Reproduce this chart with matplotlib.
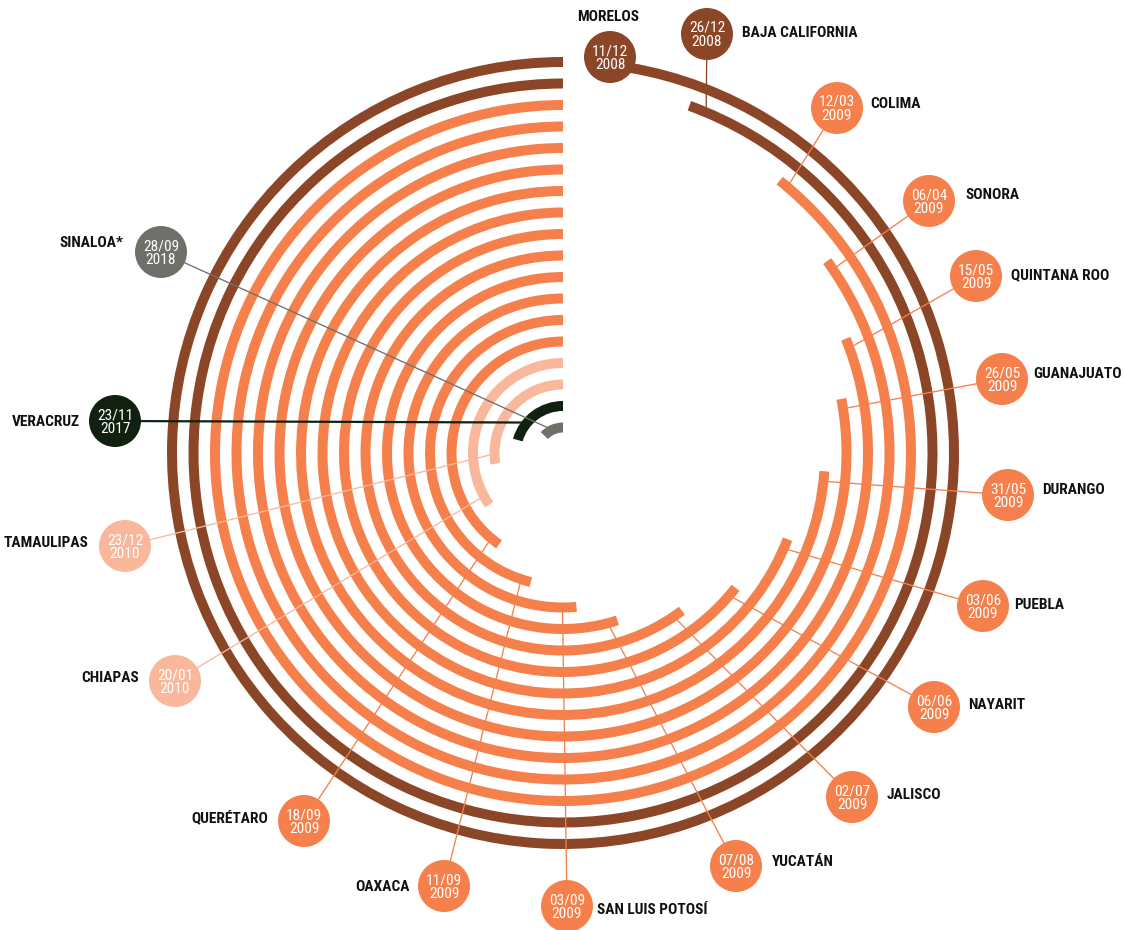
import numpy as np
import matplotlib
matplotlib.use("Agg")
import matplotlib.pyplot as plt
from matplotlib.patches import Wedge
from matplotlib import font_manager as fm

# ---------------- data ----------------
states = ["MORELOS", "BAJA CALIFORNIA", "COLIMA", "SONORA", "QUINTANA ROO",
          "GUANAJUATO", "DURANGO", "PUEBLA", "NAYARIT", "JALISCO", "YUCATÁN",
          "SAN LUIS POTOSÍ", "OAXACA", "QUERÉTARO", "CHIAPAS", "TAMAULIPAS",
          "VERACRUZ", "SINALOA*"]
dates = ["11/12\n2008", "26/12\n2008", "12/03\n2009", "06/04\n2009", "15/05\n2009",
         "26/05\n2009", "31/05\n2009", "03/06\n2009", "06/06\n2009", "02/07\n2009",
         "07/08\n2009", "03/09\n2009", "11/09\n2009", "18/09\n2009", "20/01\n2010",
         "23/12\n2010", "23/11\n2017", "28/09\n2018"]
years = ["2008", "2008", "2009", "2009", "2009", "2009", "2009", "2009", "2009",
         "2009", "2009", "2009", "2009", "2009", "2010", "2010", "2017", "2018"]
# angular length of each arc (degrees)
arc_span_deg = [353, 340, 321.5, 306, 292, 281, 266, 249, 232, 217, 198, 185,
                166, 145, 125, 99, 74, 47]

year_colors = {"2008": "#8B4627", "2009": "#F5804C", "2010": "#F9B89B",
               "2017": "#11210F", "2018": "#6E706A"}

# ---------------- layout ----------------
W, H = 1124, 930
cx, cy = 563, 453
r_outer, r_step, ring_w = 391, 21.5, 10

bubble_xy = [(610, 57), (707, 34), (837, 108), (929, 201), (976, 276),
             (1002, 379), (1008, 495), (983, 606), (934, 707), (852, 797),
             (736, 866), (567, 906), (444, 886), (304, 821), (175, 681),
             (125, 546), (115, 421), (161, 252)]
# distance (px, along the arc) from the arc's free end to the leader attachment
attach_px = [10, 18, 10, 10, 10, 10, 10, 10, 10, 10, 10, 14, 10, 10, 10, 10,
             20, 10]
name_xy = [(608, 17, "center"), (742, 33, "left"), (870, 104, "left"),
           (965, 195, "left"), (1011, 275, "left"), (1033, 374, "left"),
           (1042, 490, "left"), (1014, 605, "left"), (968, 705, "left"),
           (887, 795, "left"), (772, 862, "left"), (597, 910, "left"),
           (410, 887, "right"), (268, 818, "right"), (139, 678, "right"),
           (88, 543, "right"), (80, 422, "right"), (123, 243, "right")]

# pick the narrowest installed family available
candidates = ["Roboto Condensed", "Noto Sans Condensed", "Open Sans Condensed",
              "DejaVu Sans Condensed", "Liberation Sans Narrow"]
FONT = None
for fam in candidates:
    try:
        fm.findfont(fm.FontProperties(family=fam), fallback_to_default=False)
        FONT = [fam, "DejaVu Sans"]
        break
    except Exception:
        pass
if FONT is None:
    FONT = ["Noto Sans", "DejaVu Sans"]

fig = plt.figure(figsize=(W / 100, H / 100), dpi=100)
ax = fig.add_axes([0, 0, 1, 1])
ax.set_xlim(0, W)
ax.set_ylim(H, 0)
ax.axis("off")

renderer = fig.canvas.get_renderer()


def fit_size(txt, target_px, base, weight):
    t = ax.text(0, 0, txt, fontsize=base, fontweight=weight, family=FONT,
                fontstretch="condensed")
    w = t.get_window_extent(renderer=renderer).width
    t.remove()
    return base * target_px / w


name_size = min(13.0, fit_size("QUINTANA ROO", 98, 12, "bold"))
date_size = min(11.5, fit_size("06/04", 36, 11, "normal"))

for i, (name, date, yr, span) in enumerate(zip(states, dates, years, arc_span_deg)):
    col = year_colors[yr]
    r = r_outer - i * r_step
    a_start = 360 - span            # clockwise from 12 o'clock
    ax.add_patch(Wedge((cx, cy), r + ring_w / 2, a_start - 90, 270,
                       width=ring_w, facecolor=col, edgecolor="none", zorder=2))
    a_att = np.deg2rad(a_start + np.rad2deg(attach_px[i] / r))
    px, py = cx + r * np.sin(a_att), cy - r * np.cos(a_att)
    bx, by = bubble_xy[i]
    lw = 1.6 if yr == "2017" else 0.95
    ax.plot([px, bx], [py, by], color=col, lw=lw, zorder=3,
            solid_capstyle="butt")
    ax.scatter([bx], [by], s=(52 * 0.72) ** 2, color=col, edgecolors="none",
               zorder=4)
    ax.text(bx, by + 1, date, ha="center", va="center", color="white",
            fontsize=date_size, linespacing=1.0, family=FONT,
            fontstretch="condensed", zorder=5)
    nx, ny, ha = name_xy[i]
    ax.text(nx, ny, name, ha=ha, va="center", color="#111111",
            fontsize=name_size, fontweight="bold", family=FONT,
            fontstretch="condensed", zorder=5)

fig.savefig("out.png", dpi=100, facecolor="white")
